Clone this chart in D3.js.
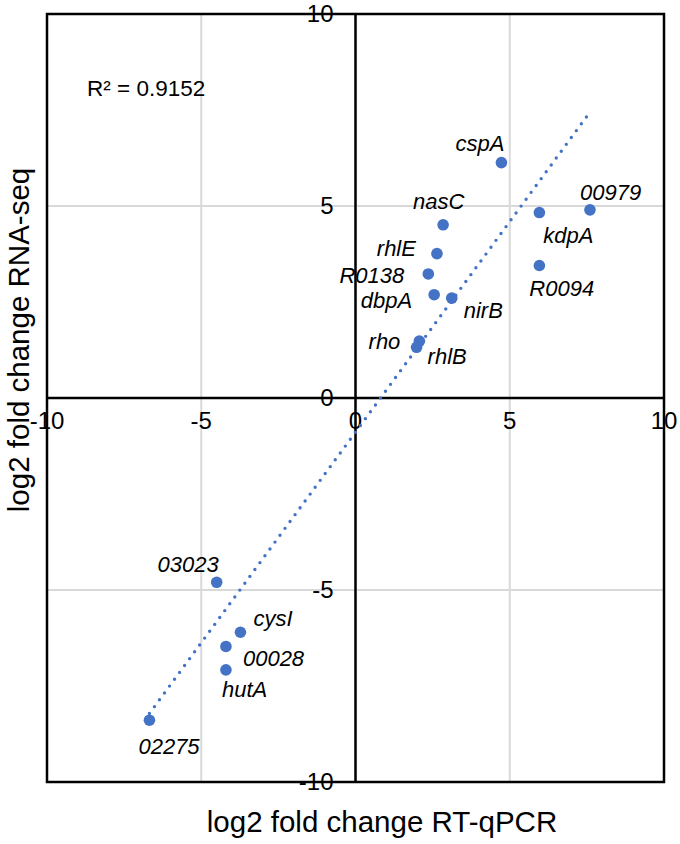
<!DOCTYPE html>
<html>
<head>
<meta charset="utf-8">
<script src="https://cdn.jsdelivr.net/npm/d3@7"></script>
<style>
  html, body { margin: 0; padding: 0; background: #fff; }
  svg { display: block; font-family: "Liberation Sans", Arial, sans-serif; }
</style>
</head>
<body>
<svg id="chart" width="680" height="844"></svg>
<script>
// ---- data ----
const genes = ["cspA","00979","kdpA","nasC","rhlE","R0094","R0138","dbpA","nirB","rho","rhlB","03023","cysI","00028","hutA","02275"];
const rtqpcr = [4.73, 7.60, 5.96, 2.84, 2.64, 5.96, 2.36, 2.55, 3.12, 2.07, 1.98, -4.50, -3.73, -4.20, -4.20, -6.68];
const rnaseq = [6.13, 4.90, 4.83, 4.51, 3.76, 3.45, 3.23, 2.69, 2.60, 1.48, 1.32, -4.80, -6.10, -6.47, -7.08, -8.39];
const xTicks = [-10, -5, 0, 5, 10];
const yTicks = [-10, -5, 0, 5, 10];
const r2Text = "R² = 0.9152";

// ---- label placement (layout) ----
const labelPos = {
  "cspA":  {a: "end",   dx: 3,   dy: -12},
  "00979": {a: "start", dx: -10, dy: -10},
  "kdpA":  {a: "start", dx: 4,   dy: 30},
  "nasC":  {a: "start", dx: -30, dy: -16},
  "rhlE":  {a: "end",   dx: -21, dy: 2},
  "R0094": {a: "start", dx: -10, dy: 30},
  "R0138": {a: "end",   dx: -24, dy: 9},
  "dbpA":  {a: "end",   dx: -22, dy: 13},
  "nirB":  {a: "start", dx: 12,  dy: 20},
  "rho":   {a: "end",   dx: -19, dy: 8},
  "rhlB":  {a: "start", dx: 11,  dy: 17},
  "03023": {a: "end",   dx: 2,   dy: -10},
  "cysI":  {a: "start", dx: 13,  dy: -6},
  "00028": {a: "start", dx: 17,  dy: 20},
  "hutA":  {a: "start", dx: -4,  dy: 27},
  "02275": {a: "start", dx: -11, dy: 34}
};

const svg = d3.select("#chart");
const x = d3.scaleLinear().domain([-10, 10]).range([47, 664]);
const y = d3.scaleLinear().domain([-10, 10]).range([782, 14]);
const blue = "#4472C4";

// gridlines
const g = svg.append("g");
g.selectAll("line.gx").data(xTicks).enter().append("line")
  .attr("x1", d => x(d)).attr("x2", d => x(d))
  .attr("y1", y(10)).attr("y2", y(-10))
  .attr("stroke", "#d9d9d9").attr("stroke-width", 2);
g.selectAll("line.gy").data(yTicks).enter().append("line")
  .attr("y1", d => y(d)).attr("y2", d => y(d))
  .attr("x1", x(-10)).attr("x2", x(10))
  .attr("stroke", "#d9d9d9").attr("stroke-width", 2);

// border
svg.append("rect")
  .attr("x", x(-10)).attr("y", y(10))
  .attr("width", x(10) - x(-10)).attr("height", y(-10) - y(10))
  .attr("fill", "none").attr("stroke", "#000").attr("stroke-width", 2.5);

// zero axes
svg.append("line").attr("x1", x(-10)).attr("x2", x(10)).attr("y1", y(0)).attr("y2", y(0))
  .attr("stroke", "#000").attr("stroke-width", 2.5);
svg.append("line").attr("x1", x(0)).attr("x2", x(0)).attr("y1", y(10)).attr("y2", y(-10))
  .attr("stroke", "#000").attr("stroke-width", 2.5);

// tick labels
svg.append("g").selectAll("text").data(xTicks).enter().append("text")
  .attr("x", d => x(d)).attr("y", y(0) + 31)
  .attr("text-anchor", "middle").attr("font-size", 24).attr("fill", "#000")
  .text(d => d);
svg.append("g").selectAll("text").data(yTicks).enter().append("text")
  .attr("x", x(0) - 22).attr("y", d => y(d)).attr("dy", "0.35em")
  .attr("text-anchor", "end").attr("font-size", 24).attr("fill", "#000")
  .text(d => d);

// data
const pts = genes.map((gname, i) => ({g: gname, x: rtqpcr[i], y: rnaseq[i]}));

// linear trendline (least squares)
const mx = d3.mean(pts, d => d.x), my = d3.mean(pts, d => d.y);
const slope = d3.sum(pts, d => (d.x - mx) * (d.y - my)) / d3.sum(pts, d => (d.x - mx) ** 2);
const icpt = my - slope * mx;
const xr = d3.extent(pts, d => d.x);
svg.append("line")
  .attr("x1", x(xr[0])).attr("y1", y(slope * xr[0] + icpt))
  .attr("x2", x(xr[1])).attr("y2", y(slope * xr[1] + icpt))
  .attr("stroke", blue).attr("stroke-width", 3.4)
  .attr("stroke-linecap", "round").attr("stroke-dasharray", "0 8.5");

// points
svg.append("g").selectAll("circle").data(pts).enter().append("circle")
  .attr("cx", d => x(d.x)).attr("cy", d => y(d.y)).attr("r", 5.8)
  .attr("fill", blue);

// labels
svg.append("g").selectAll("text").data(pts).enter().append("text")
  .attr("x", d => x(d.x) + labelPos[d.g].dx)
  .attr("y", d => y(d.y) + labelPos[d.g].dy)
  .attr("text-anchor", d => labelPos[d.g].a)
  .attr("font-size", 22).attr("font-style", "italic").attr("fill", "#000")
  .text(d => d.g);

// R²
svg.append("text").attr("x", 87).attr("y", 96).attr("font-size", 22.5).attr("fill", "#000").text(r2Text);

// axis titles
svg.append("text").attr("x", 382).attr("y", 832).attr("text-anchor", "middle")
  .attr("font-size", 29.5).attr("fill", "#000").text("log2 fold change RT-qPCR");
svg.append("text").attr("transform", "translate(29,340) rotate(-90)").attr("text-anchor", "middle")
  .attr("font-size", 29.5).attr("fill", "#000").text("log2 fold change RNA-seq");
</script>
</body>
</html>
